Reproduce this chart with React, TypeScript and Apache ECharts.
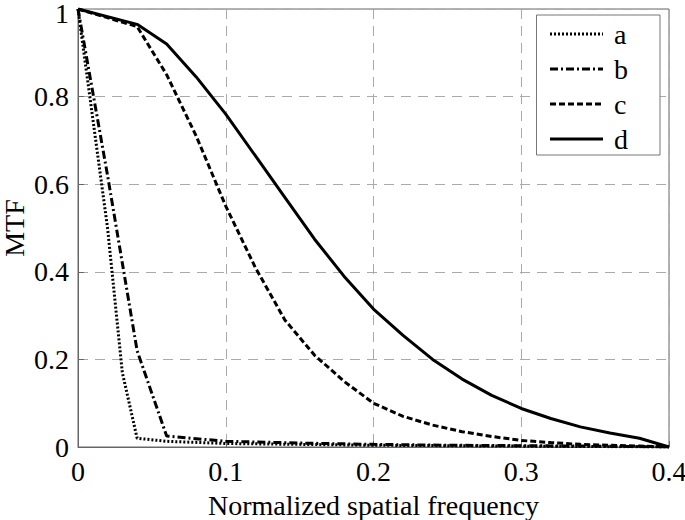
import React, { useEffect, useRef } from "react";
import * as echarts from "echarts";

const xTicks = [0, 0.1, 0.2, 0.3, 0.4];
const yTicks = [0, 0.2, 0.4, 0.6, 0.8, 1];

const seriesNames = ["a", "b", "c", "d"];

const aX = [0, 0.01, 0.02, 0.03, 0.04, 0.06, 0.1, 0.15, 0.2, 0.25, 0.3, 0.35, 0.4];
const aY = [1, 0.75, 0.5, 0.17, 0.02, 0.013, 0.008, 0.006, 0.004, 0.003, 0.002, 0.001, 0];

const bX = [0, 0.02, 0.04, 0.06, 0.1, 0.15, 0.2, 0.25, 0.3, 0.35, 0.4];
const bY = [1, 0.62, 0.22, 0.025, 0.013, 0.009, 0.006, 0.004, 0.003, 0.002, 0];

const cdX = [0, 0.04, 0.06, 0.08, 0.1, 0.12, 0.14, 0.16, 0.18, 0.2, 0.22, 0.24, 0.26, 0.28, 0.3, 0.32, 0.34, 0.36, 0.38, 0.4];
const cY = [1, 0.96, 0.85, 0.71, 0.55, 0.41, 0.29, 0.21, 0.15, 0.1, 0.07, 0.05, 0.035, 0.024, 0.015, 0.01, 0.006, 0.004, 0.002, 0];
const dY = [1, 0.965, 0.92, 0.845, 0.76, 0.665, 0.57, 0.475, 0.39, 0.315, 0.255, 0.2, 0.155, 0.118, 0.088, 0.065, 0.046, 0.032, 0.02, 0];

const zip = (xs: number[], ys: number[]) => xs.map((x, i) => [x, ys[i]]);

const FONT = "Liberation Serif";
const FS = 28;

export default function App() {
  const ref = useRef<HTMLDivElement>(null);
  useEffect(() => {
    if (!ref.current) return;
    const chart = echarts.init(ref.current, null, { renderer: "svg" });
    const lineStyles: any[] = [
      { color: "#000", width: 3, type: [2, 2] },
      { color: "#000", width: 3, type: [8, 3, 2, 3] },
      { color: "#000", width: 3, type: [6, 3] },
      { color: "#000", width: 3, type: "solid" },
    ];
    const datas = [zip(aX, aY), zip(bX, bY), zip(cdX, cY), zip(cdX, dY)];
    const fmt = (v: number) => String(+v.toFixed(2));
    const yMax = yTicks[yTicks.length - 1];
    chart.setOption({
      animation: false,
      backgroundColor: "#fff",
      textStyle: { fontFamily: FONT },
      grid: {
        left: 78,
        top: 9,
        width: 591,
        height: 438,
        show: true,
        borderColor: "#666",
        borderWidth: 1,
        backgroundColor: "transparent",
        containLabel: false,
        outerBoundsMode: "none",
      },
      legend: {
        data: seriesNames,
        orient: "vertical",
        right: 25,
        top: 15,
        itemWidth: 53,
        itemHeight: 14,
        itemGap: 7,
        padding: [5, 32, 2, 12],
        backgroundColor: "#fff",
        borderColor: "#777",
        borderWidth: 1,
        borderRadius: 0,
        itemStyle: { opacity: 0 },
        lineStyle: { width: 3 },
        textStyle: { fontFamily: FONT, fontSize: FS, color: "#000", padding: [0, 0, 0, 6] },
      },
      xAxis: {
        type: "value",
        min: xTicks[0],
        max: xTicks[xTicks.length - 1],
        interval: 0.1,
        name: "Normalized spatial frequency",
        nameLocation: "middle",
        nameGap: 44,
        nameMoveOverlap: false,
        nameTextStyle: { fontFamily: FONT, fontSize: FS, color: "#000" },
        axisLine: { show: true, lineStyle: { color: "#666", width: 1 } },
        axisTick: { show: true, inside: true, length: 6, lineStyle: { color: "#666" } },
        axisLabel: { fontFamily: FONT, fontSize: FS, color: "#000", margin: 10, formatter: fmt },
        splitLine: { show: true, lineStyle: { color: "#aaa", width: 1, type: [10, 7] } },
      },
      yAxis: {
        type: "value",
        min: yTicks[0],
        max: yMax,
        interval: 0.2,
        name: "MTF",
        nameLocation: "middle",
        nameGap: 50,
        nameMoveOverlap: false,
        nameTextStyle: { fontFamily: FONT, fontSize: FS, color: "#000" },
        axisLine: { show: true, lineStyle: { color: "#666", width: 1 } },
        axisTick: { show: true, inside: true, length: 6, lineStyle: { color: "#666" } },
        axisLabel: {
          fontFamily: FONT,
          fontSize: FS,
          color: "#000",
          margin: 9,
          formatter: (v: number) => (Math.abs(v - yMax) < 1e-9 ? "{t|" + fmt(v) + "}" : fmt(v)),
          rich: { t: { fontFamily: FONT, fontSize: FS, color: "#000", padding: [8, 0, 0, 0] } },
        },
        splitLine: { show: true, lineStyle: { color: "#aaa", width: 1, type: [10, 7] } },
      },
      series: seriesNames.map((n, i) => ({
        name: n,
        type: "line",
        data: datas[i],
        symbol: "none",
        showSymbol: false,
        smooth: false,
        lineStyle: lineStyles[i],
        itemStyle: { color: "#000" },
        z: 2,
      })),
    });
    return () => chart.dispose();
  }, []);
  return <div ref={ref} style={{ position: "fixed", left: 0, top: 0, width: 685, height: 520 }} />;
}
